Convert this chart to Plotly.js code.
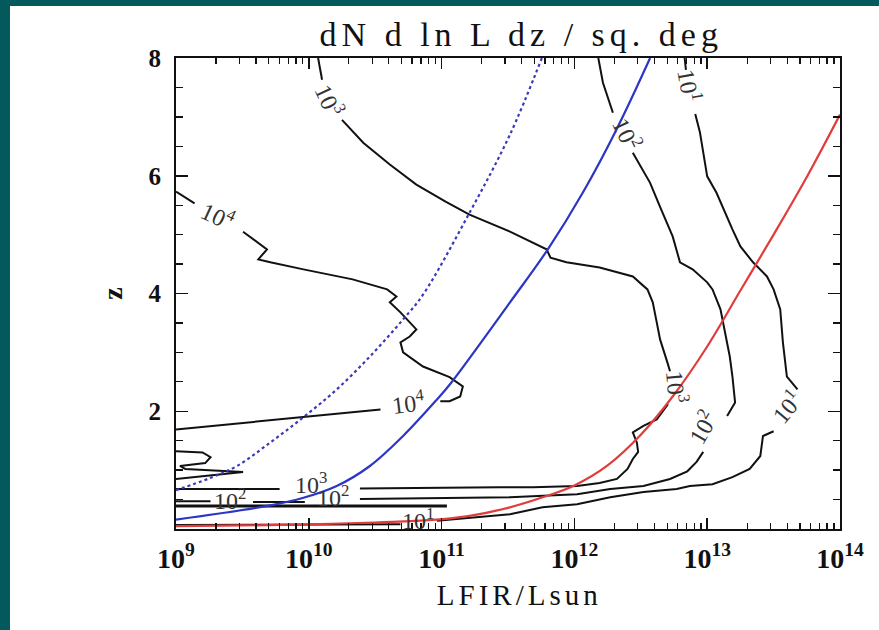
<!DOCTYPE html>
<html>
<head>
<meta charset="utf-8">
<script src="https://cdn.plot.ly/plotly-3.0.1.min.js"></script>
<style>
  html, body { margin: 0; padding: 0; background: #03595b; width: 879px; height: 630px; overflow: hidden; }
  #plot { position: absolute; left: 10px; top: 6px; width: 869px; height: 624px; background: #fff; }
</style>
</head>
<body>
<div id="plot"></div>
<script>
// ---- Data (x values are log10 of LFIR/Lsun) ----
const xTickVals = [1e9, 1e10, 1e11, 1e12, 1e13, 1e14];
const xTickText = ['10<sup>9</sup>', '10<sup>10</sup>', '10<sup>11</sup>', '10<sup>12</sup>', '10<sup>13</sup>', '10<sup>14</sup>'];
const yTickVals = [2, 4, 6, 8];

// solid red curve
const redLogL = [9.0, 9.5, 10.0, 10.5, 10.9, 11.2, 11.5, 11.75, 12.0, 12.25, 12.5, 12.75, 13.0, 13.25, 13.5, 13.75, 14.0];
const redZ    = [0.05, 0.06, 0.08, 0.11, 0.15, 0.22, 0.36, 0.53, 0.74, 1.08, 1.60, 2.28, 3.10, 4.05, 5.00, 5.98, 7.04];
// solid blue curve
const blueLogL = [9.0, 9.71, 9.96, 10.21, 10.46, 10.71, 10.965, 11.06, 11.515, 11.80, 12.065, 12.32, 12.57];
const blueZ    = [0.16, 0.40, 0.53, 0.73, 1.07, 1.58, 2.20, 2.45, 3.85, 4.75, 5.72, 6.80, 8.0];
// dotted blue curve
const dotLogL = [9.0, 9.25, 9.46, 9.71, 9.96, 10.21, 10.46, 10.71, 10.86, 11.21, 11.515, 11.755];
const dotZ    = [0.66, 0.86, 1.07, 1.47, 1.90, 2.37, 2.93, 3.56, 3.98, 5.37, 6.70, 8.0];

// contour 10^4
const c4aLogL = [9.0, 9.14];
const c4aZ    = [5.73, 5.53];
const c4bLogL = [9.505, 9.65, 9.685, 9.62, 9.71, 9.96, 10.33, 10.59, 10.66, 10.61, 10.69, 10.81, 10.76, 10.69, 10.71, 10.86, 11.06, 11.16, 11.14, 11.06, 10.99];
const c4bZ    = [5.05, 4.81, 4.75, 4.58, 4.53, 4.41, 4.24, 4.07, 3.95, 3.85, 3.68, 3.39, 3.27, 3.17, 3.0, 2.76, 2.58, 2.42, 2.25, 2.17, 2.17];
const c4cLogL = [10.54, 9.0];
const c4cZ    = [2.03, 1.69];
const c4dLogL = [9.0, 9.2, 9.26, 9.22, 9.03, 9.07, 9.505, 9.18, 9.0];
const c4dZ    = [1.32, 1.30, 1.22, 1.12, 1.07, 1.02, 0.97, 0.90, 0.85];
// contour 10^3
const c3aLogL = [10.07, 10.10];
const c3aZ    = [8.0, 7.63];
const c3bLogL = [10.25, 10.41, 10.61, 10.81, 11.03, 11.21, 11.515, 11.59, 11.79, 11.82, 11.94, 12.19, 12.44, 12.55, 12.59, 12.62, 12.645, 12.70, 12.72];
const c3bZ    = [6.95, 6.56, 6.19, 5.85, 5.56, 5.34, 5.05, 4.97, 4.75, 4.61, 4.53, 4.44, 4.29, 4.07, 3.85, 3.51, 3.22, 2.83, 2.68];
const c3cLogL = [12.705, 12.62, 12.52, 12.44, 12.47, 12.48, 12.44, 12.40, 12.32, 12.19, 12.02, 11.69, 11.44, 10.385];
const c3cZ    = [2.12, 1.86, 1.75, 1.64, 1.47, 1.31, 1.19, 1.02, 0.85, 0.78, 0.73, 0.71, 0.71, 0.69];
const c3dLogL = [9.78, 9.0];
const c3dZ    = [0.68, 0.68];
// contour 10^2
const c2aLogL = [12.18, 12.215, 12.29];
const c2aZ    = [8.0, 7.58, 7.07];
const c2bLogL = [12.44, 12.57, 12.645, 12.74, 12.795, 12.89, 13.0, 13.04, 13.10, 13.12, 13.17, 13.19, 13.21, 13.15];
const c2bZ    = [6.39, 5.88, 5.47, 4.97, 4.53, 4.41, 4.19, 4.07, 3.73, 3.51, 2.93, 2.59, 2.15, 1.92];
const c2cLogL = [12.97, 12.92, 12.85, 12.72, 12.52, 12.27, 12.02, 11.515, 10.385];
const c2cZ    = [1.31, 1.14, 0.98, 0.85, 0.73, 0.68, 0.59, 0.54, 0.51];
const c2dLogL = [9.97, 9.58];
const c2dZ    = [0.46, 0.46];
const c2eLogL = [9.26, 9.0];
const c2eZ    = [0.47, 0.47];
const c2fLogL = [9.0, 11.04];
const c2fZ    = [0.39, 0.39];
// contour 10^1
const c1aLogL = [12.83, 12.84];
const c1aZ    = [8.0, 7.8];
const c1bLogL = [12.91, 12.945, 13.0, 13.07, 13.19, 13.25, 13.345, 13.45, 13.50, 13.55, 13.57, 13.60, 13.68];
const c1bZ    = [7.05, 6.74, 5.99, 5.71, 5.09, 4.80, 4.53, 4.29, 4.07, 3.73, 3.17, 2.59, 2.37];
const c1cLogL = [13.50, 13.42, 13.40, 13.32, 13.19, 13.04, 12.87, 12.77, 12.52, 12.27, 12.02, 11.76, 11.515, 10.965];
const c1cZ    = [1.66, 1.58, 1.24, 1.02, 0.88, 0.76, 0.73, 0.68, 0.63, 0.54, 0.42, 0.37, 0.25, 0.14];
const c1dLogL = [10.69, 9.0];
const c1dZ    = [0.08, 0.07];

// contour labels
const labelText  = ['10<sup>3</sup>', '10<sup>4</sup>', '10<sup>4</sup>', '10<sup>3</sup>', '10<sup>2</sup>', '10<sup>2</sup>', '10<sup>1</sup>', '10<sup>2</sup>', '10<sup>1</sup>', '10<sup>3</sup>', '10<sup>2</sup>', '10<sup>1</sup>'];
const labelLogL  = [10.16, 9.32, 10.75, 10.02, 9.41, 10.18, 10.82, 12.40, 12.87, 12.78, 12.96, 13.59];
const labelZ     = [7.29, 5.34, 2.15, 0.78, 0.51, 0.56, 0.17, 6.73, 7.54, 2.42, 1.73, 2.08];
const labelAngle = [65, 25, -7, 0, 0, 0, 0, 65, 80, 85, -60, -50];

// ---- build traces ----
const toL = a => a.map(v => Math.pow(10, v));
const contourSegs = [
  [c4aLogL, c4aZ], [c4bLogL, c4bZ], [c4cLogL, c4cZ], [c4dLogL, c4dZ],
  [c3aLogL, c3aZ], [c3bLogL, c3bZ], [c3cLogL, c3cZ], [c3dLogL, c3dZ],
  [c2aLogL, c2aZ], [c2bLogL, c2bZ], [c2cLogL, c2cZ], [c2dLogL, c2dZ], [c2eLogL, c2eZ], [c2fLogL, c2fZ],
  [c1aLogL, c1aZ], [c1bLogL, c1bZ], [c1cLogL, c1cZ], [c1dLogL, c1dZ]
];
const traces = contourSegs.map((s, i) => ({
  x: toL(s[0]), y: s[1], mode: 'lines', type: 'scatter',
  line: {color: '#111', width: i === 13 ? 3 : 2},
  hoverinfo: 'skip', showlegend: false
}));
traces.push({x: toL(dotLogL), y: dotZ, mode: 'lines', line: {color: '#3a3ab8', width: 2.2, dash: 'dot', shape: 'spline'}, showlegend: false});
traces.push({x: toL(blueLogL), y: blueZ, mode: 'lines', line: {color: '#2b36c4', width: 2.2, shape: 'spline'}, showlegend: false});
traces.push({x: toL(redLogL), y: redZ, mode: 'lines', line: {color: '#e03c3c', width: 2.2, shape: 'spline'}, showlegend: false});

const serif = 'Liberation Serif, Times New Roman, serif';
const annotations = labelText.map((t, i) => ({
  x: labelLogL[i], y: labelZ[i], xref: 'x', yref: 'y', text: t, showarrow: false,
  textangle: labelAngle[i], font: {family: serif, size: 24, color: '#333'}
}));

const minorX = [];
for (let d = 9; d < 14; d++) for (let m = 2; m <= 9; m++) minorX.push(m * Math.pow(10, d));

const layout = {
  width: 869, height: 624,
  margin: {l: 166, r: 39, t: 52, b: 101},
  paper_bgcolor: '#ffffff', plot_bgcolor: '#ffffff',
  showlegend: false,
  title: {
    text: '<span style="letter-spacing:5px">dN d ln L dz / sq. deg</span>',
    font: {family: serif, size: 34, color: '#111'},
    x: 0.52, xref: 'paper', xanchor: 'center',
    y: 0.955, yref: 'container', yanchor: 'middle'
  },
  xaxis: {
    type: 'log', range: [9, 14],
    tickmode: 'array', tickvals: xTickVals, ticktext: xTickText,
    ticks: 'inside', ticklen: 11, tickwidth: 1.5, tickcolor: '#111',
    minor: {tickmode: 'array', tickvals: minorX, ticks: 'inside', ticklen: 6, tickwidth: 1.3, tickcolor: '#111', showgrid: false},
    showline: true, linecolor: '#111', linewidth: 2, mirror: 'ticks',
    showgrid: false, zeroline: false,
    tickfont: {family: serif, size: 28, color: '#111', weight: 'bold'},
    ticklabelstandoff: 3,
    title: {text: '<span style="letter-spacing:4px">\u00a0\u00a0LFIR/Lsun</span>', font: {family: serif, size: 29, color: '#111'}, standoff: 12}
  },
  yaxis: {
    range: [0, 8],
    tickmode: 'array', tickvals: yTickVals,
    ticks: 'inside', ticklen: 12, tickwidth: 1.5, tickcolor: '#111',
    minor: {dtick: 0.5, ticks: 'inside', ticklen: 7, tickwidth: 1.3, tickcolor: '#111', showgrid: false},
    showline: true, linecolor: '#111', linewidth: 2, mirror: 'ticks',
    showgrid: false, zeroline: false,
    tickfont: {family: serif, size: 25, color: '#111', weight: 'bold'},
    ticklabelstandoff: 8,
    title: {text: 'z', font: {family: serif, size: 28, color: '#111', weight: 'bold'}, standoff: 18}
  },
  annotations: annotations
};

Plotly.newPlot('plot', traces, layout, {staticPlot: true, displayModeBar: false});
</script>
</body>
</html>
